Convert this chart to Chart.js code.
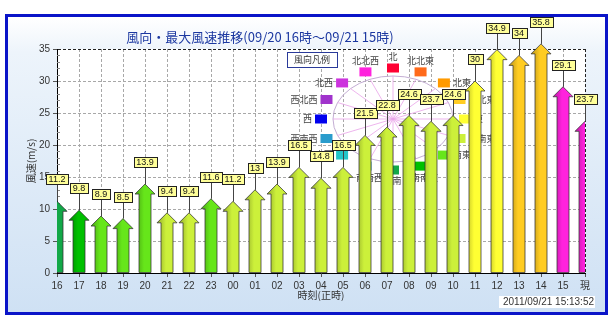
<!DOCTYPE html>
<html>
<head>
<meta charset="utf-8">
<script src="https://cdn.jsdelivr.net/npm/chart.js@4.4.1/dist/chart.umd.min.js"></script>
<style>
html, body { margin: 0; padding: 0; background: #fff; }
#wrap { width: 614px; height: 333px; }
</style>
</head>
<body>
<div id="wrap"><canvas id="windChart" width="614" height="333"></canvas></div>
<script>
// data
const hours = ['16','17','18','19','20','21','22','23','00','01','02','03','04','05','06','07','08','09','10','11','12','13','14','15','現'];
const maxSpeeds = [11.2, 9.8, 8.9, 8.5, 13.9, 9.4, 9.4, 11.6, 11.2, 13, 13.9, 16.5, 14.8, 16.5, 21.5, 22.8, 24.6, 23.7, 24.6, 30, 34.9, 34, 35.8, 29.1, 23.7];
const windDirs = ['南','南南東','南東','南東','南東','東南東','東南東','南東','東南東','東南東','東南東','東南東','東南東','東南東','東南東','東南東','東南東','東南東','東南東','東','東','東北東','東北東','北北西','北北西'];
const dirNames = ['北','北北東','北東','東北東','東','東南東','南東','南南東','南','南南西','南西','西南西','西','西北西','北西','北北西'];
const yMax = 35;
const yStep = 5;
const titleText = '風向・最大風速推移(09/20 16時～09/21 15時)';
const stampText = '2011/09/21 15:13:52';

// colours per direction (same order as dirNames)
const dirColors = ['#ff0033','#ff6a1a','#ff9a00','#ffcc22','#ffff33','#ccf03a','#66e61a','#00c000','#12a848','#2aa8a0','#22c4c8','#2a9ccc','#0000ee','#a033cc','#cc33dd','#ff22dd'];
const JP = '"Noto Sans CJK JP", sans-serif';
const NUM = '"Liberation Sans", "Noto Sans CJK JP", sans-serif';

function shade(hex, f) {
    const n = parseInt(hex.slice(1), 16);
    const r = Math.round(((n >> 16) & 255) * f);
    const g = Math.round(((n >> 8) & 255) * f);
    const b = Math.round((n & 255) * f);
    return 'rgb(' + Math.min(r,255) + ',' + Math.min(g,255) + ',' + Math.min(b,255) + ')';
}

const frameBg = {
    id: 'frameBg',
    beforeDraw(chart) {
        const ctx = chart.ctx, a = chart.chartArea;
        ctx.save();
        ctx.fillStyle = '#fff';
        ctx.fillRect(0, 0, chart.width, chart.height);
        const g = ctx.createLinearGradient(0, 17, 0, 312);
        g.addColorStop(0, '#ffffff');
        g.addColorStop(0.12, '#edf4fb');
        g.addColorStop(1, '#cfe1f4');
        ctx.fillStyle = g;
        ctx.fillRect(8, 17, 597, 295);
        ctx.strokeStyle = '#0a14c8';
        ctx.lineWidth = 3;
        ctx.strokeRect(6.5, 15.5, 600, 298);
        ctx.fillStyle = '#fff';
        ctx.fillRect(a.left, a.top, a.right - a.left, a.bottom - a.top);

        ctx.font = '13px ' + JP;
        ctx.fillStyle = '#1c38a0';
        ctx.textAlign = 'center';
        ctx.textBaseline = 'middle';
        ctx.fillText(titleText, 260, 37);

        ctx.font = '10px ' + NUM;
        const w = ctx.measureText(stampText).width;
        ctx.fillStyle = '#fff';
        ctx.fillRect(593 - w - 3, 296, w + 5, 12);
        ctx.fillStyle = '#333';
        ctx.textAlign = 'right';
        ctx.fillText(stampText, 594, 302);
        ctx.restore();
    }
};

const compassLegend = {
    id: 'compassLegend',
    beforeDatasetsDraw(chart) {
        const ctx = chart.ctx, a = chart.chartArea;
        const y = chart.scales.y;
        ctx.save();
        // minor ticks on y axis
        ctx.strokeStyle = '#888';
        ctx.lineWidth = 1;
        for (let v = 1; v < yMax; v++) {
            if (v % yStep === 0) continue;
            const py = Math.round(y.getPixelForValue(v)) + 0.5;
            ctx.beginPath();
            ctx.moveTo(a.left, py);
            ctx.lineTo(a.left + 3, py);
            ctx.stroke();
        }

        const cx = 393, cy = 119;
        ctx.strokeStyle = '#c4aed4';
        ctx.beginPath();
        ctx.ellipse(cx, cy, 60, 43, 0, 0, Math.PI * 2);
        ctx.stroke();
        ctx.strokeStyle = '#e8a2e8';
        ctx.lineWidth = 0.8;
        for (let i = 0; i < 16; i++) {
            const t = i * Math.PI / 8;
            ctx.beginPath();
            ctx.moveTo(cx, cy);
            ctx.lineTo(cx + 60 * Math.sin(t), cy - 43 * Math.cos(t));
            ctx.stroke();
        }

        ctx.font = '9px ' + JP;
        ctx.textBaseline = 'middle';
        for (let i = 0; i < 16; i++) {
            const t = i * Math.PI / 8;
            const sx = cx + 72 * Math.sin(t), sy = cy - 51 * Math.cos(t);
            ctx.fillStyle = dirColors[i];
            ctx.fillRect(sx - 6, sy - 4.5, 12, 9);
            ctx.fillStyle = '#444';
            if (i === 15 || i === 0 || i === 1) {
                ctx.textAlign = 'center';
                ctx.fillText(dirNames[i], sx, sy - 11);
            } else if (i >= 7 && i <= 9) {
                ctx.textAlign = 'center';
                ctx.fillText(dirNames[i], sx + 4, sy + 11);
            } else if (Math.sin(t) > 0) {
                ctx.textAlign = 'left';
                ctx.fillText(dirNames[i], sx + 9, sy);
            } else {
                ctx.textAlign = 'right';
                ctx.fillText(dirNames[i], sx - 9, sy);
            }
        }

        ctx.fillStyle = '#fff';
        ctx.fillRect(287, 52, 50, 15);
        ctx.strokeStyle = '#2a3a9a';
        ctx.lineWidth = 1;
        ctx.strokeRect(287.5, 52.5, 50, 15);
        ctx.fillStyle = '#333';
        ctx.textAlign = 'center';
        ctx.fillText('風向凡例', 312, 60);
        ctx.restore();
    }
};

const arrowBars = {
    id: 'arrowBars',
    afterDatasetsDraw(chart) {
        const ctx = chart.ctx, a = chart.chartArea;
        const meta = chart.getDatasetMeta(0);
        ctx.save();
        ctx.beginPath();
        ctx.rect(a.left, 0, a.right - a.left, chart.height);
        ctx.clip();
        meta.data.forEach(function (el, i) {
            const p = el.getProps(['x', 'y', 'base'], true);
            const col = dirColors[dirNames.indexOf(windDirs[i])];
            const g = ctx.createLinearGradient(p.x - 10, 0, p.x + 10, 0);
            g.addColorStop(0, shade(col, 0.72));
            g.addColorStop(0.45, col);
            g.addColorStop(1, col);
            ctx.beginPath();
            ctx.moveTo(p.x - 6, p.base);
            ctx.lineTo(p.x - 6, p.y + 10);
            ctx.lineTo(p.x - 10, p.y + 10);
            ctx.lineTo(p.x, p.y);
            ctx.lineTo(p.x + 10, p.y + 10);
            ctx.lineTo(p.x + 6, p.y + 10);
            ctx.lineTo(p.x + 6, p.base);
            ctx.closePath();
            ctx.fillStyle = g;
            ctx.fill();
            ctx.strokeStyle = 'rgba(50,50,50,0.75)';
            ctx.lineWidth = 1;
            ctx.stroke();
        });
        ctx.restore();

        // value labels
        ctx.save();
        ctx.font = '9px ' + NUM;
        ctx.textAlign = 'center';
        ctx.textBaseline = 'middle';
        meta.data.forEach(function (el, i) {
            const p = el.getProps(['x', 'y'], true);
            const txt = String(maxSpeeds[i]);
            const w = Math.round(ctx.measureText(txt).width) + 5;
            const bx = Math.round(p.x - w / 2) + 0.5;
            const by = Math.round(p.y - 27) + 0.5;
            ctx.strokeStyle = '#444';
            ctx.beginPath();
            ctx.moveTo(Math.round(p.x) + 0.5, by + 10);
            ctx.lineTo(Math.round(p.x) + 0.5, p.y);
            ctx.stroke();
            ctx.fillStyle = '#ffff99';
            ctx.fillRect(bx, by, w, 10);
            ctx.strokeStyle = '#222';
            ctx.strokeRect(bx, by, w, 10);
            ctx.fillStyle = '#111';
            ctx.fillText(txt, p.x, by + 5.5);
        });
        ctx.restore();
    }
};

const ctx = document.getElementById('windChart').getContext('2d');
const windChart = new Chart(ctx, {
    type: 'bar',
    data: {
        labels: hours,
        datasets: [{
            label: '最大風速',
            data: maxSpeeds,
            backgroundColor: 'rgba(0,0,0,0)',
            borderWidth: 0
        }]
    },
    options: {
        responsive: false,
        animation: false,
        devicePixelRatio: 1,
        layout: { padding: { top: 49, right: 29, left: 10, bottom: 0 } },
        plugins: {
            legend: { display: false },
            tooltip: { enabled: false },
            title: { display: false }
        },
        scales: {
            x: {
                type: 'category',
                offset: false,
                afterFit: function (s) { s.height = 60; },
                grid: {
                    offset: false,
                    color: function (c) { return c.index === hours.length - 1 ? '#222' : '#a8a8a8'; },
                    tickColor: '#555',
                    tickLength: 4,
                    tickBorderDash: []
                },
                border: { display: true, color: '#000', width: 1, dash: [3, 2] },
                ticks: { color: '#333', font: { size: 10, family: NUM }, padding: 3, maxRotation: 0, autoSkip: false },
                title: { display: true, text: '時刻(正時)', color: '#333', font: { size: 10, family: JP }, padding: { top: 0, bottom: 32 } }
            },
            y: {
                min: 0,
                max: yMax,
                afterFit: function (s) { s.width = 47; },
                grid: {
                    color: function (c) { return c.tick && c.tick.value === yMax ? '#222' : '#a8a8a8'; },
                    tickColor: '#555',
                    tickLength: 4,
                    tickBorderDash: []
                },
                border: { display: true, color: '#000', width: 1, dash: [3, 2] },
                ticks: { stepSize: yStep, color: '#333', font: { size: 10, family: NUM }, padding: 3 },
                title: { display: true, text: '風速(m/s)', color: '#333', font: { size: 10, family: JP }, padding: { top: 15, bottom: 0 } }
            }
        }
    },
    plugins: [frameBg, compassLegend, arrowBars]
});
</script>
</body>
</html>
